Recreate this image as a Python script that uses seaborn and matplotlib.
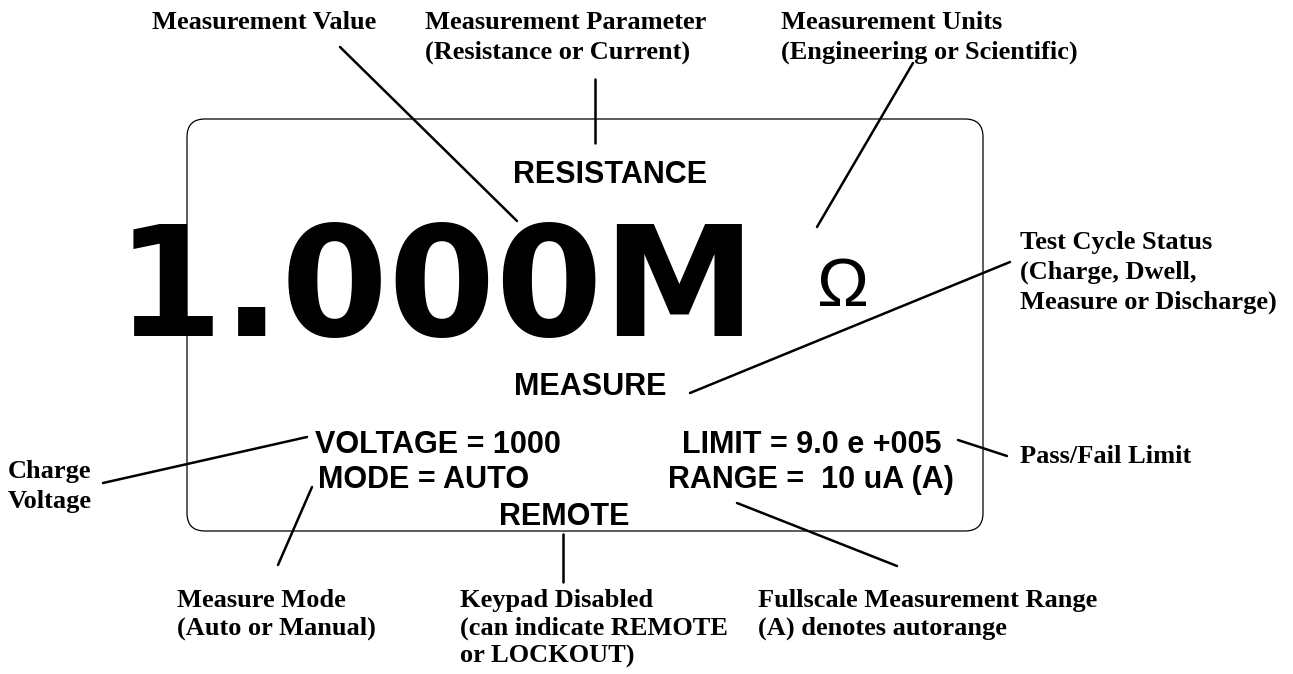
import matplotlib
matplotlib.use("Agg")
import matplotlib.pyplot as plt
from matplotlib.patches import FancyBboxPatch
import seaborn as sns
import pandas as pd

W, H = 1293, 674

# leader lines (pixel units, y grows downwards)
leader_names = ["value", "parameter", "units", "cycle", "voltage",
                "mode", "keypad", "limit", "range"]
leader_x0 = [340, 595, 913, 1010, 103, 312, 563, 958, 737]
leader_y0 = [47, 79, 63, 262, 483, 487, 534, 440, 503]
leader_x1 = [517, 595, 817, 690, 307, 278, 563, 1007, 897]
leader_y1 = [221, 143, 227, 393, 437, 565, 582, 456, 566]

# call-out labels (Times bold), one entry per text line, left aligned
note_lines = ["Measurement Value",
              "Measurement Parameter", "(Resistance or Current)",
              "Measurement Units", "(Engineering or Scientific)",
              "Test Cycle Status", "(Charge, Dwell,", "Measure or Discharge)",
              "Charge", "Voltage",
              "Pass/Fail Limit",
              "Measure Mode", "(Auto or Manual)",
              "Keypad Disabled", "(can indicate REMOTE", "or LOCKOUT)",
              "Fullscale Measurement Range", "(A) denotes autorange"]
note_x = [152, 425, 425, 781, 781, 1020, 1020, 1020, 8, 8, 1020,
          177, 177, 460, 460, 460, 758, 758]
note_y = [29, 29, 59, 29, 59, 249, 279, 309, 478, 508, 463,
          607, 635, 607, 635, 663, 607, 635]

# display panel texts (Arial bold)
disp_texts = ["RESISTANCE", "MEASURE", "VOLTAGE = 1000", "MODE = AUTO",
              "LIMIT = 9.0 e +005", "RANGE =  10 uA (A)", "REMOTE"]
disp_x = [610, 590, 315, 318, 682, 668, 564]
disp_y = [183, 395, 453, 488, 453, 488, 525]
disp_ha = ["center", "center", "left", "left", "left", "left", "center"]

big_value = "1.000M"
unit_symbol = "\u03a9"

box_left, box_top, box_right, box_bottom = 187, 119, 983, 531


def main():
    sns.set_theme(style="white")
    fig = plt.figure(figsize=(W / 100, H / 100), dpi=100)
    ax = fig.add_axes([0, 0, 1, 1])

    # leader lines
    rows = []
    for name, xa, ya, xb, yb in zip(leader_names, leader_x0, leader_y0, leader_x1, leader_y1):
        rows.append({"seg": name, "x": xa, "y": ya})
        rows.append({"seg": name, "x": xb, "y": yb})
    lines = pd.DataFrame(rows)
    sns.lineplot(data=lines, x="x", y="y", units="seg", estimator=None,
                 sort=False, color="black", lw=1.8, ax=ax, legend=False)

    # display outline
    box = FancyBboxPatch((box_left, box_top), box_right - box_left, box_bottom - box_top,
                         boxstyle="round,pad=0,rounding_size=18",
                         fill=False, ec="black", lw=0.9)
    ax.add_patch(box)

    for txt, x, y in zip(note_lines, note_x, note_y):
        ax.text(x, y, txt, ha="left", va="baseline", fontsize=19,
                family="Liberation Serif", weight="bold", color="black")

    for txt, x, y, ha in zip(disp_texts, disp_x, disp_y, disp_ha):
        ax.text(x, y, txt, ha=ha, va="baseline", fontsize=22,
                family="Liberation Sans", weight="bold", color="black")

    ax.text(436, 336, big_value, ha="center", va="baseline", fontsize=111,
            family="DejaVu Sans", weight="bold", color="black")
    ax.text(843, 306, unit_symbol, ha="center", va="baseline", fontsize=50,
            family="Liberation Sans", color="black")

    ax.set_xlim(0, W)
    ax.set_ylim(H, 0)
    ax.axis("off")
    fig.savefig("out.png", dpi=100, facecolor="white")


if __name__ == "__main__":
    main()
